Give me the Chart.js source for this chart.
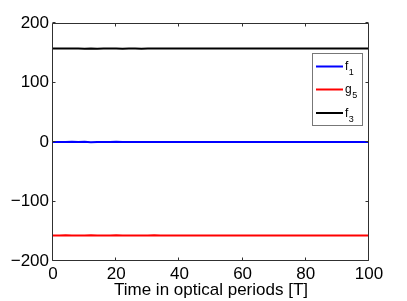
<!DOCTYPE html>
<html>
<head>
<meta charset="utf-8">
<script src="https://cdn.jsdelivr.net/npm/chart.js@4"></script>
<style>
html,body{margin:0;padding:0;background:#fff;}
canvas{display:block;}
</style>
</head>
<body>
<canvas id="c" width="407" height="301"></canvas>
<script>
// Time in optical periods
const timeT = [0,2,4,6,8,10,12,14,16,18,20,22,24,26,28,30,32,34,36,38,40,42,44,46,48,50,52,54,56,58,60,62,64,66,68,70,72,74,76,78,80,82,84,86,88,90,92,94,96,98,100];
const f1 = [0.2,-0.1,0.1,0.3,-0.2,0.4,-0.3,0.1,0.1,-0.2,
            0.3,-0.2,0.1,0.0,-0.1,0.2,0.1,-0.2,0.1,0.2,
            -0.1,0.1,-0.2,0.1,0.2,-0.1,0.0,0.2,-0.2,0.1,
            0.1,-0.1,0.2,-0.1,0.0,0.1,-0.2,0.1,0.2,-0.1,
            0.1,0.0,0.1,-0.1,0.2,-0.1,0.1,0.0,0.1,-0.1,0.1];
const g5 = [-157.0,-157.2,-156.9,-157.3,-157.0,-157.3,-156.8,-157.1,-157.0,-157.2,
            -156.9,-157.2,-157.0,-157.0,-157.2,-157.1,-156.9,-157.1,-157.0,-157.2,
            -157.0,-157.1,-157.0,-157.2,-157.1,-157.0,-157.1,-157.0,-157.2,-157.1,
            -157.0,-157.1,-157.0,-157.2,-157.0,-157.1,-157.0,-157.1,-157.1,-157.0,
            -157.1,-157.0,-157.1,-157.2,-157.0,-157.1,-157.1,-157.0,-157.1,-157.1,-157.0];
const f3 = [157.1,157.0,157.1,157.1,157.0,156.9,157.3,156.9,157.2,157.0,
            157.2,156.9,157.2,157.0,156.9,157.2,157.0,157.2,157.0,157.1,
            157.0,157.0,157.1,157.1,157.1,157.0,157.1,157.1,157.0,157.1,
            157.1,157.0,157.1,157.1,157.0,157.1,157.1,157.0,157.1,157.1,
            157.0,157.1,157.1,157.0,157.1,157.1,157.0,157.1,157.1,157.0,157.1];
const seriesNames = [['f','1'],['g','5'],['f','3']];
const seriesColors = ['#0000ff','#ff0000','#000000'];
const xTickValues = [0,20,40,60,80,100];
const yTickValues = [-200,-100,0,100,200];
const xTitle = 'Time in optical periods [T]';

const FONT = '"Liberation Sans", Arial, Helvetica, sans-serif';
const pts = arr => timeT.map((t,i)=>({x:t,y:arr[i]}));

const boxPlugin = {
  id:'boxPlugin',
  afterDatasetsDraw(chart){
    const {ctx, chartArea:a, scales:{x,y}} = chart;
    ctx.save();
    const L = Math.round(a.left)-0.5, R = Math.round(a.right)-0.5;
    const T = Math.round(a.top)+0.5, B = Math.round(a.bottom)-0.5;
    ctx.strokeStyle = '#303030';
    ctx.lineWidth = 1;
    ctx.beginPath();
    ctx.moveTo(L,T); ctx.lineTo(R,T); ctx.lineTo(R,B); ctx.lineTo(L,B); ctx.closePath();
    const tl = 3;
    xTickValues.forEach(v=>{
      const px = Math.round(x.getPixelForValue(v))-0.5;
      ctx.moveTo(px,B); ctx.lineTo(px,B-tl);
      ctx.moveTo(px,T); ctx.lineTo(px,T+tl);
    });
    yTickValues.forEach(v=>{
      const py = Math.round(y.getPixelForValue(v))-0.5;
      ctx.moveTo(L,py); ctx.lineTo(L+tl,py);
      ctx.moveTo(R,py); ctx.lineTo(R-tl,py);
    });
    ctx.stroke();

    // legend
    const bx=312.5, by=53.5, bw=50, bh=72;
    ctx.fillStyle='#fff';
    ctx.fillRect(bx,by,bw,bh);
    ctx.strokeStyle='#777';
    ctx.strokeRect(bx,by,bw,bh);
    const rows=[66.5,89.5,113];
    rows.forEach((ry,i)=>{
      ctx.strokeStyle = seriesColors[i];
      ctx.lineWidth = 2;
      ctx.beginPath(); ctx.moveTo(316,ry); ctx.lineTo(343,ry); ctx.stroke();
      ctx.fillStyle='#000';
      ctx.textBaseline='alphabetic';
      ctx.textAlign='left';
      ctx.font = '12px '+FONT;
      ctx.fillText(seriesNames[i][0], 345, ry+3.5);
      const w = ctx.measureText(seriesNames[i][0]).width;
      ctx.font = '9px '+FONT;
      ctx.fillText(seriesNames[i][1], 345+w+0.5, ry+8.5);
    });
    ctx.restore();
  }
};

new Chart(document.getElementById('c'), {
  type:'line',
  data:{
    datasets:[
      {label:'f1', data:pts(f1), borderColor:seriesColors[0], borderWidth:2, pointRadius:0, tension:0, fill:false},
      {label:'g5', data:pts(g5), borderColor:seriesColors[1], borderWidth:2, pointRadius:0, tension:0, fill:false},
      {label:'f3', data:pts(f3), borderColor:seriesColors[2], borderWidth:2, pointRadius:0, tension:0, fill:false}
    ]
  },
  options:{
    responsive:false,
    devicePixelRatio:1,
    animation:false,
    layout:{padding:{top:23,right:38,left:0,bottom:0}},
    plugins:{legend:{display:false},tooltip:{enabled:false}},
    scales:{
      x:{
        type:'linear', min:0, max:100,
        afterBuildTicks: s => { s.ticks = xTickValues.map(v=>({value:v})); },
        afterFit: s => { s.height = 40; },
        grid:{display:false, drawTicks:false},
        border:{display:false},
        ticks:{color:'#000', padding:3, maxRotation:0, font:{family:FONT, size:17}},
        title:{display:true, text:xTitle, color:'#000', padding:{top:0,bottom:0}, font:{family:FONT, size:17}}
      },
      y:{
        type:'linear', min:-200, max:200,
        afterBuildTicks: s => { s.ticks = yTickValues.map(v=>({value:v})); },
        afterFit: s => { s.width = 53; },
        grid:{display:false, drawTicks:false},
        border:{display:false},
        ticks:{color:'#000', padding:4, font:{family:FONT, size:17},
          callback: v => (v<0 ? '\u2212'+Math.abs(v) : String(v))}
      }
    }
  },
  plugins:[boxPlugin]
});
</script>
</body>
</html>
